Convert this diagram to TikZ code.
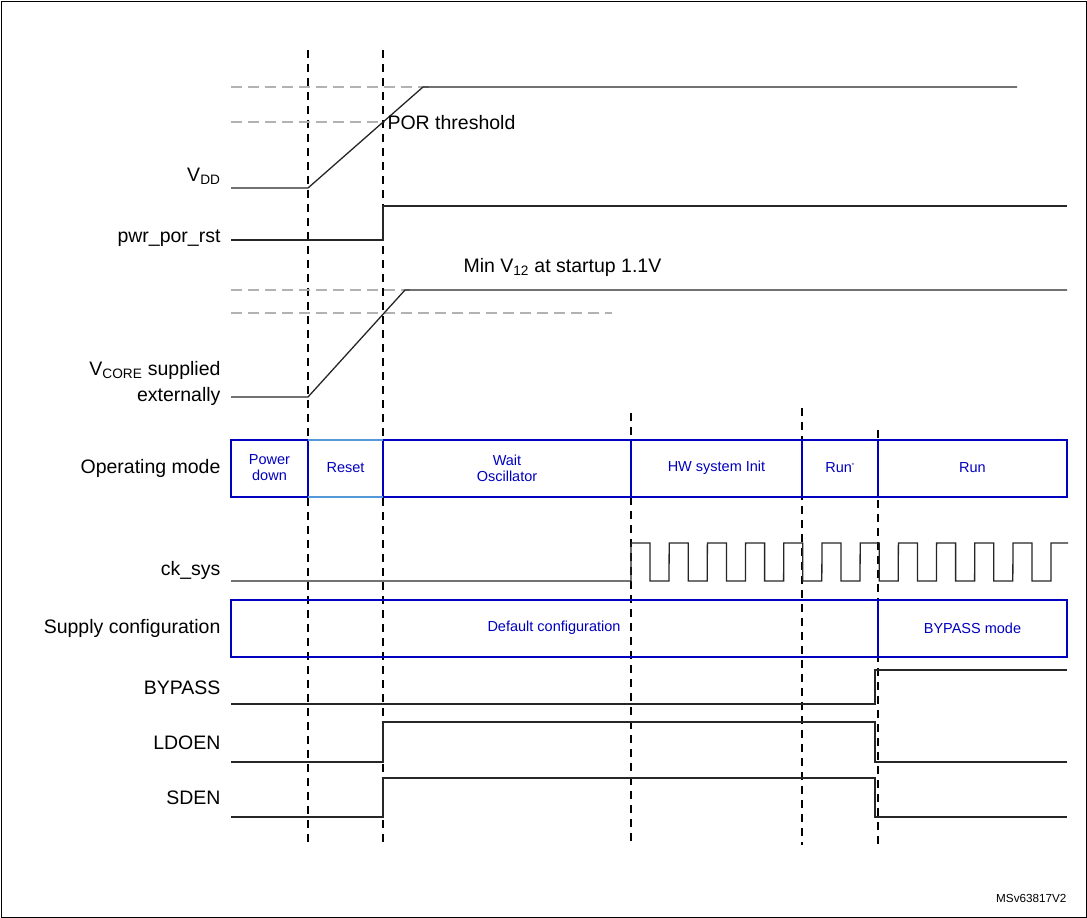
\documentclass[tikz,border=0pt]{standalone}
\usepackage{fontspec}
\setmainfont{Liberation Sans}
\begin{document}
\begin{tikzpicture}[x=1pt,y=-1pt,
  sig/.style={line width=1.3pt,black!85},
  vd/.style={line width=1.1pt,dash pattern=on 8pt off 6pt},
  gd/.style={line width=1.1pt,gray!60,dash pattern=on 11pt off 6pt},
  lab/.style={anchor=east,font=\fontsize{19.5}{21}\selectfont},
  box/.style={draw=blue!75!black,line width=1.3pt},
  bt/.style={text=blue!75!black,font=\fontsize{14.5}{16}\selectfont,align=center}]
\useasboundingbox (0,0) rectangle (1087,918);
\draw[line width=1pt] (1,1) rectangle (1086,917);
% vertical dashed
\foreach \x/\a in {308/50,383/50,631/413,802/408,878/430}
  {\coordinate (t\x) at (\x,\a); \coordinate (b\x) at (\x,845); \draw[vd] (t\x) -- (b\x);}
% VDD
\coordinate (g1a) at (231,87); \coordinate (g1b) at (430,87);
\coordinate (g2a) at (231,122); \coordinate (g2b) at (385,122);
\draw[gd] (g1a) -- (g1b); \draw[gd] (g2a) -- (g2b);
\coordinate (v0) at (231,188); \coordinate (v1) at (308,188); \coordinate (v2) at (423,87); \coordinate (v3) at (1017,87);
\draw[sig] (v0) -- (v1) -- (v2) -- (v3);
\node[lab] (lvdd) at (224,176) {V\textsubscript{DD}};
\node[anchor=west,font=\fontsize{19.5}{21}\selectfont] (por) at (384,123) {POR threshold};
% pwr_por_rst
\coordinate (p0) at (231,240); \coordinate (p1) at (383,240); \coordinate (p2) at (383,206); \coordinate (p3) at (1067,206);
\draw[sig] (p0) -- (p1) -- (p2) -- (p3);
\node[lab] (lpor) at (224,238) {pwr\_por\_rst};
% VCORE
\coordinate (g3a) at (231,290); \coordinate (g3b) at (410,290);
\coordinate (g4a) at (231,313); \coordinate (g4b) at (612,313);
\draw[gd] (g3a) -- (g3b); \draw[gd] (g4a) -- (g4b);
\coordinate (c0) at (231,397); \coordinate (c1) at (308,397); \coordinate (c2) at (405,290); \coordinate (c3) at (1067,290);
\draw[sig] (c0) -- (c1) -- (c2) -- (c3);
\node[anchor=west,font=\fontsize{19.5}{21}\selectfont] (minv) at (460,267) {Min V\textsubscript{12} at startup 1.1V};
\node[lab,align=right,font=\fontsize{19.5}{26}\selectfont] (lvc) at (224,383) {V\textsubscript{CORE} supplied\\externally};
% Operating mode
\node[lab] (lom) at (224,468) {Operating mode};
\draw[box] (231,440) rectangle (308,497);
\draw[box] (383,440) rectangle (1067,497);
\draw[draw=cyan!60!blue!70,line width=1.3pt] (308,440) -- (383,440) (308,497) -- (383,497);
\foreach \x in {631,802,878} \draw[box] (\x,440) -- (\x,497);
\node[bt] (m1) at (269.5,468) {Power\\down};
\node[bt] (m2) at (345.5,468) {Reset};
\node[bt] (m3) at (507,468) {Wait\\Oscillator};
\node[bt] (m4) at (716.5,468) {HW system Init};
\node[bt] (m5) at (840,468) {Run\textsuperscript{\fontsize{6}{6}\selectfont *}};
\node[bt] (m6) at (972.5,468) {Run};
% ck_sys
\node[lab] (lck) at (224,570) {ck\_sys};
\draw[sig] (231,581) -- (631,581)
  \foreach \i in {0,...,10} { -- ({631+38.2*\i},543) -- ({650+38.2*\i},543) -- ({650+38.2*\i},581) -- ({669+38.2*\i},581) }
  -- (1051,543) -- (1068,543);
% Supply configuration
\node[lab] (lsc) at (224,628) {Supply configuration};
\draw[box] (231,600) rectangle (1067,657);
\draw[box] (878,600) -- (878,657);
\node[bt] (s1) at (554,628) {Default configuration};
\node[bt] (s2) at (972.5,628) {BYPASS mode};
% BYPASS
\node[lab] (lby) at (224,688) {BYPASS};
\draw[sig] (231,704) -- (875,704) -- (875,670) -- (1067,670);
% LDOEN
\node[lab] (lld) at (224,743) {LDOEN};
\draw[sig] (231,762) -- (383,762) -- (383,722) -- (875,722) -- (875,762) -- (1067,762);
% SDEN
\node[lab] (lsd) at (224,798) {SDEN};
\draw[sig] (231,817) -- (383,817) -- (383,778) -- (875,778) -- (875,817) -- (1067,817);
\node[anchor=east,font=\fontsize{11.7}{13}\selectfont] (ms) at (1070,898) {MSv63817V2};
\end{tikzpicture}
\end{document}
